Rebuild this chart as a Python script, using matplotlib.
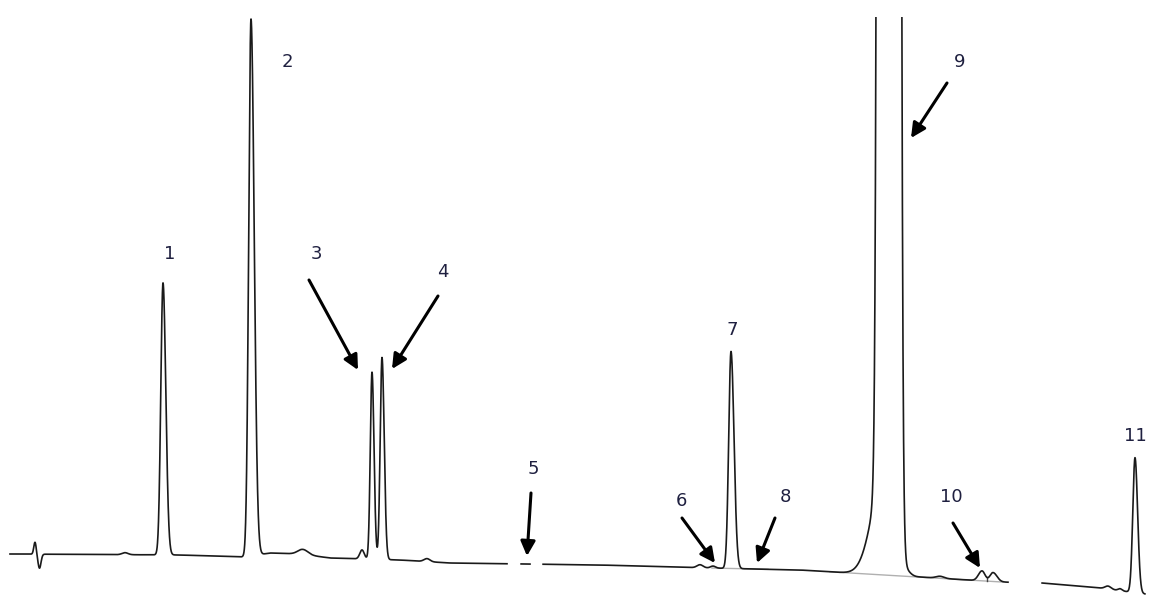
import numpy as np
import matplotlib
matplotlib.use('Agg')
import matplotlib.pyplot as plt

# peak table (retention position, height above baseline, left/right width)
peak_rt = [35, 39.5, 163, 251, 372, 382, 731, 889, 884, 904, 982, 993, 1135]
peak_h = [12, -14, 272, 537, 187, 202, 217, 1e5, 100, 8, 10, 9, 135]
peak_sl = [1.2, 1.5, 2.2, 2.3, 1.7, 1.8, 2.3, 4.0, 12, 2, 3.5, 3, 2.2]
peak_sr = [1.2, 1.5, 2.8, 3.2, 2.0, 2.2, 3.0, 4.0, 4, 5, 3, 4, 2.6]

# small humps on the baseline
bump_rt = [125, 303, 362, 427, 700, 713, 940, 1108, 1120]
bump_h = [2, 5, 9, 3, 3, 2, 2, 3, 2]
bump_w = [3, 5, 2.2, 3, 3, 2.5, 4, 3, 2]

# baseline drift (signal level)
base_x = [10, 180, 245, 270, 300, 330, 400, 450, 600, 710, 800, 850, 920, 1000, 1042, 1100, 1145]
base_y = [41, 40, 38, 42, 41, 37, 35, 32, 30, 27, 25, 22, 18, 13, 12, 7, 1]

# parts of the trace that are missing in the print
gaps = [(507, 521), (530, 543), (1008, 1042)]

# integration lines under peaks
integ = [(712, 768), (830, 1003)]
drop_x = [987]

# peak labels: text, label position, arrow tail / tip (None = no arrow)
labels = ['1', '2', '3', '4', '5', '6', '7', '8', '9', '10', '11']
label_xy = [(170, 254), (287, 62), (316, 254), (443, 272), (533, 469), (681, 501),
            (732, 330), (785, 497), (960, 62), (951, 497), (1135, 436)]
arrow_from = [None, None, (309, 280), (438, 296), (531, 493), (682, 518),
              None, (775, 518), (947, 83), (953, 523), None]
arrow_to = [None, None, (358, 370), (392, 369), (527, 556), (715, 563),
            None, (757, 563), (911, 138), (980, 568), None]


def bigauss(t, rt, h, sl, sr):
    s = np.where(t < rt, sl, sr)
    return h * np.exp(-0.5 * ((t - rt) / s) ** 2)


t = np.arange(10, 1145, 0.1)
base = np.interp(t, base_x, base_y)
sig = base.copy()
for rt, h, sl, sr in zip(peak_rt, peak_h, peak_sl, peak_sr):
    sig += bigauss(t, rt, h, sl, sr)
for rt, h, w in zip(bump_rt, bump_h, bump_w):
    sig += bigauss(t, rt, h, w, w)
for a, b in gaps:
    sig[(t > a) & (t < b)] = np.nan

fig = plt.figure(figsize=(11.55, 5.95), dpi=100)
ax = fig.add_axes([0, 0, 1, 578 / 595])
ax.set_xlim(0, 1155)
ax.set_ylim(0, 578)
ax.axis('off')

for a, b in integ:
    ax.plot([a, b], np.interp([a, b], base_x, base_y), color='#b0b0b0', lw=1)
for x in drop_x:
    ax.plot([x, x], [np.interp(x, base_x, base_y), np.interp(x, t, np.nan_to_num(sig))],
            color='#444444', lw=1)

ax.plot(t, sig, color='#1a1a1a', lw=1.2)

for txt, (lx, ly), a0, a1 in zip(labels, label_xy, arrow_from, arrow_to):
    ax.text(lx, 595 - ly, txt, ha='center', va='center', fontsize=13,
            color='#1f2040', family='DejaVu Sans')
    if a0 is not None:
        ax.annotate('', xy=(a1[0], 595 - a1[1]), xytext=(a0[0], 595 - a0[1]),
                    arrowprops=dict(arrowstyle='-|>', color='black', lw=2.2,
                                    mutation_scale=22, shrinkA=0, shrinkB=0),
                    annotation_clip=False)

fig.savefig('out.png', dpi=100, facecolor='white')
